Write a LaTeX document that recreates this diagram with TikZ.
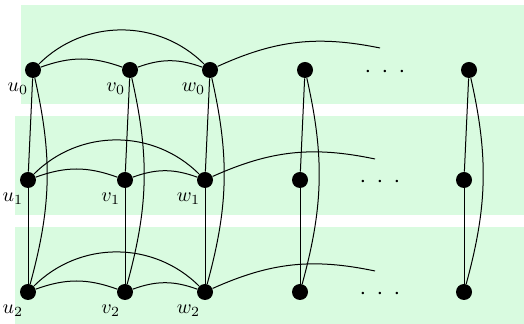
\documentclass[tikz,border=0pt]{standalone}
\usetikzlibrary{positioning}
\definecolor{bandg}{HTML}{D9FBE0}
\tikzset{
  vert/.style={circle, fill=black, inner sep=0pt, minimum size=8pt},
  lbl/.style={font=\normalsize, inner sep=0.3pt, yshift=-3pt, xshift=1pt},
  edge/.style={line width=0.5pt},
  dotsl/.style={inner sep=0pt, font=\large},
}

\begin{document}
\begin{tikzpicture}[x=0.5pt,y=0.5pt]
\useasboundingbox (0,0) rectangle (524,-324);
% ---- bands -----------------------------------------------------------------
\fill[bandg] (21,-5)   rectangle (524,-104);
\fill[bandg] (15,-116) rectangle (524,-215);
\fill[bandg] (15,-227) rectangle (524,-326);
% ---- row 0 -----------------------------------------------------------------
\node[vert, label={[lbl]225:$u_0$}] (u0) at (33,-70)  {};
\node[vert, label={[lbl]225:$v_0$}] (v0) at (130,-70) {};
\node[vert, label={[lbl]225:$w_0$}] (w0) at (210,-70) {};
\node[vert] (x0) at (305,-70) {};
\node[dotsl] (d0) at (385,-72) {$\cdot$\hspace{5.2pt}$\cdot$\hspace{5.2pt}$\cdot$};
\node[vert] (n0) at (469,-70) {};
\coordinate (e0) at (380,-48);
% ---- row 1 -----------------------------------------------------------------
\node[vert, label={[lbl]225:$u_1$}] (u1) at (28,-180)  {};
\node[vert, label={[lbl]225:$v_1$}] (v1) at (125,-180) {};
\node[vert, label={[lbl]225:$w_1$}] (w1) at (205,-180) {};
\node[vert] (x1) at (300,-180) {};
\node[dotsl] (d1) at (380,-182) {$\cdot$\hspace{5.2pt}$\cdot$\hspace{5.2pt}$\cdot$};
\node[vert] (n1) at (464,-180) {};
\coordinate (e1) at (375,-159);
% ---- row 2 -----------------------------------------------------------------
\node[vert, label={[lbl]225:$u_2$}] (u2) at (28,-292)  {};
\node[vert, label={[lbl]225:$v_2$}] (v2) at (125,-292) {};
\node[vert, label={[lbl]225:$w_2$}] (w2) at (205,-292) {};
\node[vert] (x2) at (300,-292) {};
\node[dotsl] (d2) at (380,-294) {$\cdot$\hspace{5.2pt}$\cdot$\hspace{5.2pt}$\cdot$};
\node[vert] (n2) at (464,-292) {};
\coordinate (e2) at (375,-271);
% ---- edges in a row --------------------------------------------------------
\foreach \r in {0,1,2}{
  \draw[edge] (u\r) to[bend left=20] (v\r);
  \draw[edge] (v\r) to[bend left=20] (w\r);
  \draw[edge] (u\r) to[bend left=45] (w\r);
  \draw[edge] (w\r) to[bend left=18] (e\r);
}
% ---- edges between rows ----------------------------------------------------
\foreach \c in {u,v,w,x,n}{
  \draw[edge] (\c0) -- (\c1);
  \draw[edge] (\c1) -- (\c2);
  \draw[edge] (\c0) to[bend left=14] (\c2);
}
\end{tikzpicture}
\end{document}
